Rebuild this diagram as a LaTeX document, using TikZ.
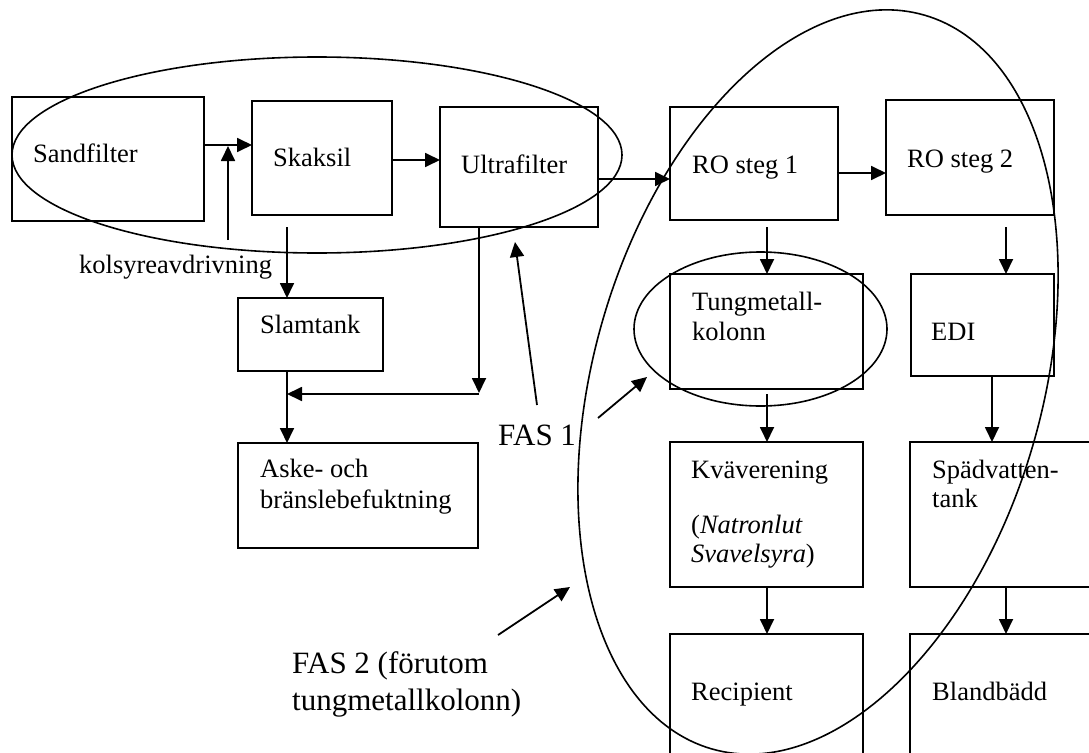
\documentclass[tikz,border=0pt]{standalone}
\usepackage{fontspec}
\setmainfont{Liberation Serif}
\usetikzlibrary{arrows.meta}
\begin{document}
\begin{tikzpicture}[x=1pt,y=1pt,
  box/.style={draw, line width=2pt, rectangle, inner sep=0pt, outer sep=0pt, anchor=north west},
  txt/.style={anchor=base west, inner sep=0pt, font=\fontsize{26.5}{30.5}\selectfont},
  big/.style={anchor=base west, inner sep=0pt, font=\fontsize{31}{37}\selectfont},
  arr/.style={-{Triangle[length=15pt,width=14pt]}, line width=1.8pt},
  ring/.style={line width=1.6pt}]
\clip (0,0) rectangle (1089,-752);
\fill[white] (0,0) rectangle (1089,-752);
% boxes
\node[box, minimum width=192pt, minimum height=124pt] (sand) at (12,-97) {};
\node[box, minimum width=140pt, minimum height=114pt] (skak) at (252,-101) {};
\node[box, minimum width=158pt, minimum height=120pt] (ultra) at (440,-107) {};
\node[box, minimum width=168pt, minimum height=113pt] (ro1) at (670,-107) {};
\node[box, minimum width=168pt, minimum height=115pt] (ro2) at (886,-100) {};
\node[box, minimum width=145pt, minimum height=73pt] (slam) at (238,-298) {};
\node[box, minimum width=240pt, minimum height=105pt] (aske) at (238,-443) {};
\node[box, minimum width=193pt, minimum height=115pt] (tung) at (670,-274) {};
\node[box, minimum width=143pt, minimum height=102pt] (edi) at (911,-274) {};
\node[box, minimum width=193pt, minimum height=145pt] (kva) at (670,-442) {};
\node[box, minimum width=220pt, minimum height=145pt] (spad) at (910,-442) {};
\node[box, minimum width=193pt, minimum height=160pt] (rec) at (670,-634) {};
\node[box, minimum width=220pt, minimum height=160pt] (bland) at (910,-634) {};
% texts
\node[txt] (tsand) at (33,-162) {Sandfilter};
\node[txt] (tskak) at (273,-166) {Skaksil};
\node[txt] (tultra) at (461,-173) {Ultrafilter};
\node[txt] (tro1) at (692,-173) {RO steg 1};
\node[txt] (tro2) at (907,-167) {RO steg 2};
\node[txt] (tslam) at (260,-333) {Slamtank};
\node[txt] (taske1) at (260,-477) {Aske- och};
\node[txt] (taske2) at (260,-508) {bränslebefuktning};
\node[txt] (ttung1) at (692,-310) {Tungmetall-};
\node[txt] (ttung2) at (692,-340) {kolonn};
\node[txt] (tedi) at (931,-340) {EDI};
\node[txt] (tkva) at (691,-478) {Kväverening};
\node[txt] (tkva2) at (691,-533) {(\textit{Natronlut}};
\node[txt] (tkva3) at (691,-562) {\textit{Svavelsyra})};
\node[txt] (tspad1) at (932,-478) {Spädvatten-};
\node[txt] (tspad2) at (932,-507) {tank};
\node[txt] (trec) at (691,-700) {Recipient};
\node[txt] (tbland) at (932,-700) {Blandbädd};
\node[txt] (tkol) at (79,-273) {kolsyreavdrivning};
\node[big] (fas1) at (498,-445) {FAS 1};
\node[big] (fas2a) at (292,-673) {FAS 2 (förutom};
\node[big] (fas2b) at (292,-710) {tungmetallkolonn)};
% ellipses
\draw[ring] (317,-155) ellipse [x radius=305, y radius=98];
\draw[ring] (818,-382) ellipse [x radius=224, y radius=382, rotate=-16.2];
\draw[ring] (760.5,-329) ellipse [x radius=126.5, y radius=77];
% connectors
\coordinate (kfoot) at (228,-240);
\coordinate (kjoin) at (228,-146);
\coordinate (ujoin) at (479,-394);
\coordinate (sjoin) at (287,-394);
\draw[arr] (sand.east |- 0,-145) -- (skak.west |- 0,-145);
\draw[arr] (kfoot) -- (kjoin);
\draw[arr] (skak.east |- 0,-160) -- (ultra.west |- 0,-160);
\draw[arr] (ultra.east |- 0,-179) -- (ro1.west |- 0,-179);
\draw[arr] (ro1.east |- 0,-173) -- (ro2.west |- 0,-173);
\draw[arr] (287,-227) -- (slam.north -| 287,0);
\draw[line width=1.8pt] (ultra.south -| 479,0) -- (479,-380);
\draw[arr] (479,-370) -- (479,-393);
\draw[arr] (ujoin) -- (sjoin);
\draw[arr] (slam.south -| 287,0) -- (aske.north -| 287,0);
\draw[arr] (767,-227) -- (tung.north -| 767,0);
\draw[arr] (767,-394) -- (kva.north -| 767,0);
\draw[arr] (1006,-227) -- (edi.north -| 1006,0);
\draw[arr] (edi.south -| 992,0) -- (spad.north -| 992,0);
\draw[arr] (kva.south -| 767,0) -- (rec.north -| 767,0);
\draw[arr] (spad.south -| 1006,0) -- (bland.north -| 1006,0);
% FAS pointers
\draw[arr] (537,-405) -- (515,-242);
\draw[arr] (598,-418) -- (647,-377);
\draw[arr] (498,-635) -- (570,-587);
\end{tikzpicture}
\end{document}
